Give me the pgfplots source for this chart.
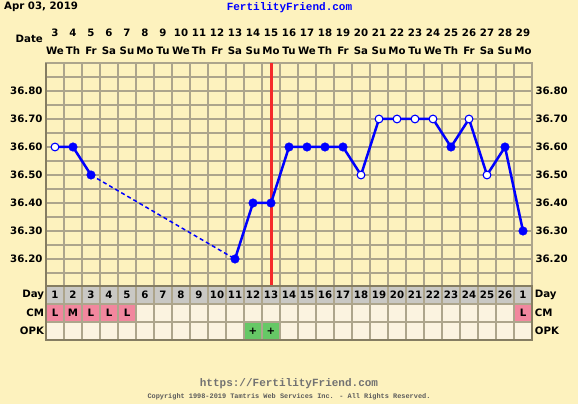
\documentclass[border=0pt]{standalone}
\usepackage{pgfplots}
\pgfplotsset{compat=1.18}
\usepackage{fontspec}
\setmainfont{DejaVu Sans}
\newfontfamily\mono{Liberation Mono}
\definecolor{bg}{HTML}{FDF2BE}
\definecolor{gridc}{HTML}{ADA58C}
\definecolor{framec}{HTML}{857D62}
\definecolor{cellc}{HTML}{FBF3E0}
\definecolor{dayc}{HTML}{C9C8C4}
\definecolor{pinkc}{HTML}{F2879E}
\definecolor{greenc}{HTML}{66C866}
\definecolor{ffblue}{HTML}{0000FF}
\definecolor{ffred}{HTML}{F52A2A}
\definecolor{footc}{HTML}{727272}
\newcommand{\lab}{\bfseries\fontsize{10.2}{12}\selectfont}
\begin{document}
\begin{tikzpicture}[x=1pt,y=1pt]
\fill[bg] (0,0) rectangle (578,404);
% titles
\node[anchor=west, font=\lab, inner sep=0] at (4,397) {Apr 03, 2019};
\node[font=\mono\bfseries\fontsize{11}{12}\selectfont, text=ffblue, inner sep=0] at (289.5,396) {FertilityFriend.com};
% date header
\node[anchor=east, font=\lab, inner sep=0] at (43,365) {Date};
\foreach \d [count=\i] in {3,...,29} {
  \node[font=\lab, inner sep=0] at ({46+18*(\i-0.5)},371.5) {\d};
}
\foreach \w [count=\i] in {We,Th,Fr,Sa,Su,Mo,Tu,We,Th,Fr,Sa,Su,Mo,Tu,We,Th,Fr,Sa,Su,Mo,Tu,We,Th,Fr,Sa,Su,Mo} {
  \node[font=\lab, inner sep=0] at ({46+18*(\i-0.5)},353) {\w};
}
% temperature axis
\begin{axis}[
  at={(46pt,117pt)}, anchor=south west, scale only axis,
  width=486pt, height=224pt,
  xmin=0, xmax=27, ymin=36.1, ymax=36.9,
  xtick={0,...,27}, xticklabels={},
  ytick={36.2,36.3,36.4,36.5,36.6,36.7,36.8},
  minor ytick={36.15,36.25,36.35,36.45,36.55,36.65,36.75,36.85},
  grid=both,
  major grid style={gridc, line width=1.5pt},
  minor grid style={gridc, line width=1.5pt},
  major tick length=0pt, minor tick length=0pt,
  axis line style={gridc, line width=1.5pt},
  yticklabel style={font=\lab, /pgf/number format/.cd, fixed, fixed zerofill, precision=2, assume math mode=true},
  clip=false,
]
\addplot[ffred, line width=3pt] coordinates {(12.5,36.1) (12.5,36.9)};
\addplot[ffblue, line width=2.5pt, line join=round] coordinates {(0.5,36.6) (1.5,36.6) (2.5,36.5)};
\addplot[ffblue, line width=1.5pt, dash pattern=on 4pt off 3pt] coordinates {(2.5,36.5) (10.5,36.2)};
\addplot[ffblue, line width=2.5pt, line join=round] coordinates {
(10.5,36.2) (11.5,36.4) (12.5,36.4) (13.5,36.6) (14.5,36.6) (15.5,36.6) (16.5,36.6)
(17.5,36.5) (18.5,36.7) (19.5,36.7) (20.5,36.7) (21.5,36.7) (22.5,36.6) (23.5,36.7)
(24.5,36.5) (25.5,36.6) (26.5,36.3)};
\addplot[only marks, mark=*, mark size=4.3pt, mark options={fill=ffblue, draw=ffblue}] coordinates {
(1.5,36.6) (2.5,36.5) (10.5,36.2) (11.5,36.4) (12.5,36.4) (13.5,36.6) (14.5,36.6)
(15.5,36.6) (16.5,36.6) (22.5,36.6) (25.5,36.6) (26.5,36.3)};
\addplot[only marks, mark=*, mark size=3.9pt, mark options={fill=white, draw=ffblue, line width=1.1pt}] coordinates {
(0.5,36.6) (17.5,36.5) (18.5,36.7) (19.5,36.7) (20.5,36.7) (21.5,36.7) (23.5,36.7) (24.5,36.5)};
\draw[framec, line width=2.2pt] (axis cs:0,36.1) -- (axis cs:0,36.9);
\end{axis}
% right tick labels
\begin{axis}[
  at={(46pt,117pt)}, anchor=south west, scale only axis,
  width=486pt, height=224pt,
  xmin=0, xmax=27, ymin=36.1, ymax=36.9,
  hide x axis, axis y line*=right, axis line style={draw=none},
  ytick={36.2,36.3,36.4,36.5,36.6,36.7,36.8},
  major tick length=0pt,
  yticklabel style={font=\lab, /pgf/number format/.cd, fixed, fixed zerofill, precision=2, assume math mode=true},
]
\end{axis}
% table axis
\begin{axis}[
  at={(46pt,64pt)}, anchor=south west, scale only axis,
  width=486pt, height=54pt,
  xmin=0, xmax=27, ymin=0, ymax=3,
  xtick={0,...,27}, ytick={0,1,2,3},
  xticklabels={}, yticklabels={},
  major tick length=0pt,
  grid=major, major grid style={gridc, line width=1.5pt},
  axis line style={framec, line width=1.6pt},
  axis on top, clip=false,
]
\fill[cellc] (axis cs:0,0) rectangle (axis cs:27,2);
\fill[dayc] (axis cs:0,2) rectangle (axis cs:27,3);
\fill[pinkc] (axis cs:0,1) rectangle (axis cs:5,2);
\fill[pinkc] (axis cs:26,1) rectangle (axis cs:27,2);
\fill[greenc] (axis cs:11,0) rectangle (axis cs:13,1);
\draw[framec, line width=1.6pt] (axis cs:0,2) -- (axis cs:27,2);
\pgfplotsinvokeforeach{1,...,26}{
  \node[font=\lab, inner sep=0] at (axis cs:#1-0.5,2.5) {#1};
}
\node[font=\lab, inner sep=0] at (axis cs:26.5,2.5) {1};
\node[font=\lab, inner sep=0] at (axis cs:0.5,1.5) {L};
\node[font=\lab, inner sep=0] at (axis cs:1.5,1.5) {M};
\node[font=\lab, inner sep=0] at (axis cs:2.5,1.5) {L};
\node[font=\lab, inner sep=0] at (axis cs:3.5,1.5) {L};
\node[font=\lab, inner sep=0] at (axis cs:4.5,1.5) {L};
\node[font=\lab, inner sep=0] at (axis cs:26.5,1.5) {L};
\node[font=\lab, inner sep=0] at (axis cs:11.5,0.5) {+};
\node[font=\lab, inner sep=0] at (axis cs:12.5,0.5) {+};
\node[font=\lab, anchor=east, inner sep=0] at (axis cs:-0.1,2.5) {Day};
\node[font=\lab, anchor=east, inner sep=0] at (axis cs:-0.1,1.5) {CM};
\node[font=\lab, anchor=east, inner sep=0] at (axis cs:-0.1,0.5) {OPK};
\node[font=\lab, anchor=west, inner sep=0] at (axis cs:27.15,2.5) {Day};
\node[font=\lab, anchor=west, inner sep=0] at (axis cs:27.15,1.5) {CM};
\node[font=\lab, anchor=west, inner sep=0] at (axis cs:27.15,0.5) {OPK};
\end{axis}
% footer
\node[font=\mono\bfseries\fontsize{11}{12}\selectfont, text=footc, inner sep=0] at (289,20) {https://FertilityFriend.com};
\node[font=\mono\bfseries\fontsize{6.9}{8}\selectfont, text=footc!80!black, inner sep=0] at (289,7) {Copyright 1998-2019 Tamtris Web Services Inc. - All Rights Reserved.};
\end{tikzpicture}
\end{document}
